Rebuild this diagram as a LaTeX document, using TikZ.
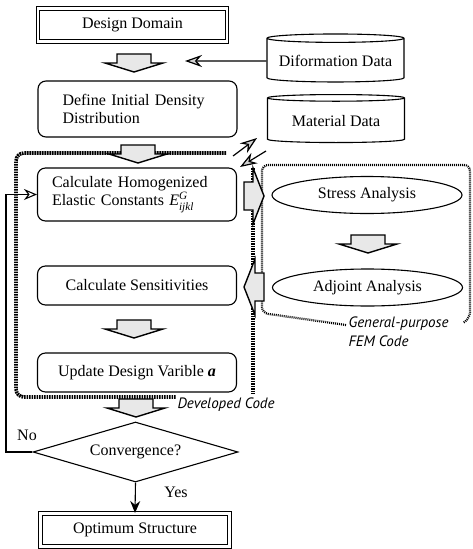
\documentclass[tikz,border=0pt]{standalone}
\usepackage{fontspec}
\setmainfont{Liberation Serif}
\newfontfamily\notefont{PT Sans}
\usepackage{amsmath}
\usetikzlibrary{shapes.geometric,arrows.meta}

\tikzset{
  termbox/.style={draw, double, double distance=2.4pt, line width=1pt,
    minimum width=189pt, minimum height=33pt},
  procbox/.style={draw, rounded corners=8pt, line width=1.1pt, minimum width=199pt},
  database/.style={draw, cylinder, shape border rotate=90, aspect=0.07,
    line width=1.1pt, minimum width=137pt, minimum height=48pt},
  analysis/.style={draw, ellipse, line width=1.1pt, minimum width=190pt, minimum height=37pt},
  devline/.style={line width=3.6pt, dash pattern=on 1.7pt off 0.8pt},
  femline/.style={line width=2.2pt, dash pattern=on 1pt off 1pt},
  flow/.style={line width=1.1pt, -{Stealth[length=12pt,width=10pt]}},
  backflow/.style={line width=1.1pt, -{Stealth[length=13pt,width=11pt,open]}},
  dataflow/.style={line width=1.2pt, -{Stealth[length=17pt,width=12pt,fill=gray!35]}},
  notetext/.style={font=\notefont\itshape\fontsize{15}{19}\selectfont},
  blockfill/.style={draw=black, line width=1.4pt, fill=gray!18},
  flowdown/.pic={\filldraw[blockfill] (-17,0) -- (17,0) -- (17,9) -- (29,9)
    -- (0,18) -- (-29,9) -- (-17,9) -- cycle;},
  flowright/.pic={\filldraw[blockfill] (0,-14) -- (9,-14) -- (9,-28) -- (20,0)
    -- (9,28) -- (9,14) -- (0,14) -- cycle;}
}

\begin{document}
\begin{tikzpicture}[x=1pt,y=-1pt,font=\fontsize{16}{18.5}\selectfont]
    \useasboundingbox (0,0) rectangle (472,549);

    % main flow
    \node[termbox] (dom) at (132.5,25) {Design Domain};
    \node[procbox, minimum height=56pt, align=left, text width=150pt] (init) at (137.5,109)
        {Define Initial Density\\Distribution};
    \node[procbox, minimum height=53pt, align=left, text width=170pt] (homog) at (137,194.5)
        {Calculate Homogenized\\Elastic Constants $\text{\itshape E}^{\text{\itshape G}}_{\text{\itshape ijkl}}$};
    \node[procbox, minimum height=39pt] (sens) at (137,285.5) {Calculate Sensitivities};
    \node[procbox, minimum height=39pt] (upd) at (137,372.5) {Update Design Varible \textit{\textbf{a}}};
    \node[draw, diamond, aspect=3.4, line width=1.1pt, minimum width=205pt, minimum height=60pt,
        inner sep=0pt] (conv) at (135.5,452) {Convergence?};
    \node[termbox] (opt) at (135,530) {Optimum Structure};

    % data and FEM side
    \node[database] (dif) at (335.5,61) {Diformation Data};
    \node[database] (mat) at (336,121) {Material Data};
    \node[analysis] (stress) at (367,195) {Stress Analysis};
    \node[analysis] (adj) at (367.5,287.5) {Adjoint Analysis};

    % code borders
    \draw[devline, rounded corners=8pt] (226,153) -- (16,153) -- (16,397) -- (176,397);
    \draw[devline] (253,168) -- (253,394);
    \draw[femline, rounded corners=6pt] (346,325) -- (262,313) -- (262,165) -- (470,165)
        -- (470,318) -- (463,323);
    \node[notetext, anchor=west] (devlabel) at (174,405) {Developed Code};
    \node[notetext, anchor=west, align=left] (femlabel) at (345,332) {General-purpose\\FEM Code};

    % block arrows
    \pic at (134,54) {flowdown};
    \pic at (138,145) {flowdown};
    \pic at (134,320) {flowdown};
    \pic at (136,399) {flowdown};
    \pic at (368,235) {flowdown};
    \pic at (244,196) {flowright};
    \pic[rotate=180] at (264,287) {flowright};

    % connectors
    \coordinate (difin) at (185,61);
    \coordinate (devout) at (233,156);
    \coordinate (matin) at (257,138);
    \coordinate (femout) at (266,151);
    \coordinate (devin) at (240,167);
    \draw[dataflow] (dif.west) -- (difin);
    \draw[dataflow] (devout) -- (matin);
    \draw[dataflow] (femout) -- (devin);
    \draw[backflow] (conv.west) -- (6,452) |- (homog.west);
    \draw[flow] (conv.south) -- (opt.north);
    \node (no) at (27,435) {No};
    \node (yes) at (176,492) {Yes};
\end{tikzpicture}
\end{document}
